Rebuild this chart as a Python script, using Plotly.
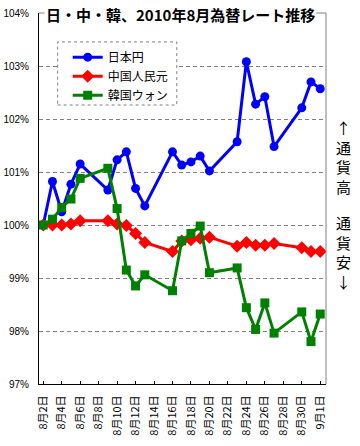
import plotly.graph_objects as go

dates = ["2010-08-02", "2010-08-03", "2010-08-04", "2010-08-05", "2010-08-06",
         "2010-08-09", "2010-08-10", "2010-08-11", "2010-08-12", "2010-08-13",
         "2010-08-16", "2010-08-17", "2010-08-18", "2010-08-19", "2010-08-20",
         "2010-08-23", "2010-08-24", "2010-08-25", "2010-08-26", "2010-08-27",
         "2010-08-30", "2010-08-31", "2010-09-01"]

jpy = [100.00, 100.82, 100.25, 100.77, 101.15,
       100.66, 101.23, 101.38, 100.69, 100.36,
       101.38, 101.13, 101.19, 101.30, 101.02,
       101.57, 103.08, 102.28, 102.42, 101.48,
       102.21, 102.70, 102.57]

cny = [100.00, 100.00, 100.00, 100.02, 100.08,
       100.08, 100.02, 99.99, 99.84, 99.67,
       99.50, 99.70, 99.72, 99.75, 99.77,
       99.60, 99.67, 99.62, 99.62, 99.65,
       99.57, 99.50, 99.50]

krw = [100.00, 100.11, 100.33, 100.49, 100.88,
       101.07, 100.31, 99.15, 98.85, 99.06,
       98.76, 99.70, 99.84, 99.98, 99.10,
       99.19, 98.44, 98.03, 98.53, 97.96,
       98.36, 97.80, 98.32]

series_names = ["日本円", "中国人民元", "韓国ウォン"]

tick_vals = ["2010-08-02", "2010-08-04", "2010-08-06", "2010-08-08", "2010-08-10",
             "2010-08-12", "2010-08-14", "2010-08-16", "2010-08-18", "2010-08-20",
             "2010-08-22", "2010-08-24", "2010-08-26", "2010-08-28", "2010-08-30",
             "2010-09-01"]
tick_text = ["8月2日", "8月4日", "8月6日", "8月8日", "8月10日", "8月12日", "8月14日",
             "8月16日", "8月18日", "8月20日", "8月22日", "8月24日", "8月26日",
             "8月28日", "8月30日", "9月1日"]

y_ticks = [97, 98, 99, 100, 101, 102, 103, 104]
y_text = ["97%", "98%", "99%", "100%", "101%", "102%", "103%", "104%"]

title_text = "日・中・韓、2010年8月為替レート推移"

JP = "Noto Sans CJK JP"

fig = go.Figure()
fig.add_trace(go.Scatter(x=dates, y=jpy, name=series_names[0], mode="lines+markers",
                         line=dict(color="#0000FF", width=3),
                         marker=dict(symbol="circle", size=9, color="#0000FF")))
fig.add_trace(go.Scatter(x=dates, y=cny, name=series_names[1], mode="lines+markers",
                         line=dict(color="#FF0000", width=3),
                         marker=dict(symbol="diamond", size=10, color="#FF0000")))
fig.add_trace(go.Scatter(x=dates, y=krw, name=series_names[2], mode="lines+markers",
                         line=dict(color="#008000", width=3),
                         marker=dict(symbol="square", size=9, color="#008000")))

fig.update_layout(
    width=360, height=446,
    margin=dict(l=39, r=34, t=13, b=62, autoexpand=False),
    paper_bgcolor="white", plot_bgcolor="white",
    showlegend=True,
    legend=dict(x=0.1, y=0.92, xanchor="left", yanchor="top",
                bgcolor="rgba(0,0,0,0)", borderwidth=0,
                font=dict(family=JP, size=12, color="black")),
    xaxis=dict(type="date", range=["2010-08-01 13:00", "2010-09-01 15:00"],
               automargin=False,
               tickmode="array", tickvals=tick_vals, ticktext=tick_text,
               tickangle=-90, ticks="inside", ticklen=3, tickcolor="black",
               showline=True, linecolor="black", linewidth=1,
               showgrid=False, zeroline=False,
               ticklabelstandoff=6,
               tickfont=dict(family=JP, size=11, color="black")),
    yaxis=dict(range=[97, 104], tickmode="array", tickvals=y_ticks, ticktext=y_text,
               automargin=False,
               showline=True, linecolor="black", linewidth=1,
               showgrid=True, gridcolor="#808080", griddash="4px,3px", gridwidth=1,
               zeroline=False, ticks="", ticklabelstandoff=7,
               tickfont=dict(family="Liberation Sans", size=10, color="black")),
    shapes=[
        dict(type="line", xref="paper", yref="paper", x0=0, x1=1, y0=1, y1=1,
             line=dict(color="#808080", width=1)),
        dict(type="line", xref="paper", yref="paper", x0=1, x1=1, y0=0, y1=1,
             line=dict(color="#808080", width=1)),
        dict(type="rect", xref="paper", yref="paper", x0=0.065, x1=0.48,
             y0=0.752, y1=0.922, layer="above", fillcolor="white",
             line=dict(color="#808080", width=1, dash="3px,3px")),
    ],
    annotations=[
        dict(text="<b>" + title_text + "</b>", xref="paper", yref="paper",
             x=0.493, y=0.995, xanchor="center", yanchor="middle", showarrow=False,
             bgcolor="white", font=dict(family=JP, size=15, color="black")),
        dict(text="↑<br>通<br>貨<br>高", xref="paper", yref="paper",
             x=1.06, y=0.612, xanchor="center", yanchor="middle", showarrow=False,
             font=dict(family=JP, size=15, color="black")),
        dict(text="通<br>貨<br>安<br>↓", xref="paper", yref="paper",
             x=1.06, y=0.356, xanchor="center", yanchor="middle", showarrow=False,
             font=dict(family=JP, size=15, color="black")),
    ],
)

# remove the browser's default 8px body margin so the figure fills the window
fig.write_html("out.html",
               config={"displayModeBar": False},
               post_script="document.body.style.margin='0px';")
